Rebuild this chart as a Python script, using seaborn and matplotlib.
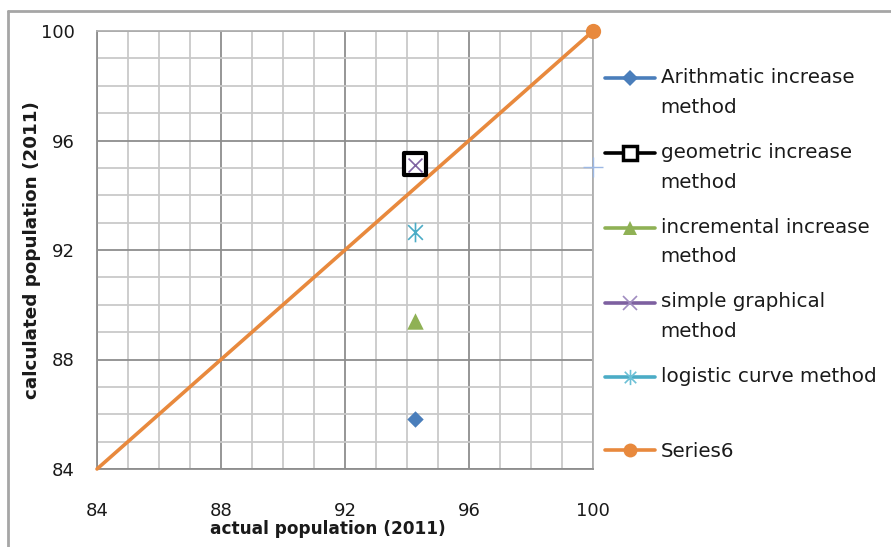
import numpy as np
import matplotlib
matplotlib.use("Agg")
import matplotlib.pyplot as plt
import seaborn as sns
from matplotlib.path import Path
from matplotlib.lines import Line2D
from matplotlib.ticker import MultipleLocator

# data
actual_2011 = 94.25
arithmatic = [85.83]
geometric = [95.14]
incremental = [89.4]
graphical = [95.1]
logistic = [92.66]
stray_x = [100]
stray_y = [95.02]
series6_x = [84, 100]
series6_y = [84, 100]

labels = [
    "Arithmatic increase\nmethod",
    "geometric increase\nmethod",
    "incremental increase\nmethod",
    "simple graphical\nmethod",
    "logistic curve method\n ",
    "Series6",
]
xticks = [84, 88, 92, 96, 100]
yticks = [84, 88, 92, 96, 100]

sns.set_theme(style="white")
plt.rcParams["font.family"] = ["DejaVu Sans"]

# asterisk like the excel "star" marker: vertical line plus an x
star = Path(
    [(0, -1), (0, 1), (-0.75, -0.75), (0.75, 0.75), (-0.75, 0.75), (0.75, -0.75)],
    [Path.MOVETO, Path.LINETO] * 3,
)

fig = plt.figure(figsize=(8.91, 5.47), dpi=100)
ax = fig.add_axes([97 / 891, 1 - 469 / 547, 496 / 891, 438 / 547])

orange = "#E8893D"
sns.lineplot(x=series6_x, y=series6_y, ax=ax, color=orange, lw=2.6,
             marker="o", markersize=11, markevery=[1], markeredgewidth=0,
             clip_on=False, zorder=3)

pts = dict(x=[actual_2011], ax=ax, clip_on=False, legend=False, zorder=4)
sns.scatterplot(y=arithmatic, marker="D", s=70, color="#4A7EBB", linewidth=0, **pts)
sns.scatterplot(y=geometric, marker="s", s=230, facecolor="white", edgecolor="black",
                linewidth=3, **pts)
sns.scatterplot(y=graphical, marker="x", s=100, color="#8064A2", linewidth=1.2, **pts)
sns.scatterplot(y=incremental, marker="^", s=140, color="#8FB155", linewidth=0, **pts)
sns.scatterplot(y=logistic, marker=star, s=200, color="#4BACC6", edgecolor="#4BACC6",
                linewidth=1.2, **pts)
sns.scatterplot(x=stray_x, y=stray_y, ax=ax, marker="+", s=220, color="#9DB8E4",
                linewidth=1.0, clip_on=False, legend=False, zorder=4)

ax.set_xlim(84, 100)
ax.set_ylim(84, 100)
ax.set_xticks(xticks)
ax.set_yticks(yticks)
ax.xaxis.set_minor_locator(MultipleLocator(1))
ax.yaxis.set_minor_locator(MultipleLocator(1))
ax.grid(which="minor", color="#C9C9C9", lw=1.3)
ax.grid(which="major", color="#8E8E8E", lw=1.3)
ax.set_axisbelow(True)
for side, sp in ax.spines.items():
    sp.set_color("#8E8E8E" if side in ("left", "bottom") else "#B0B0B0")
    sp.set_linewidth(1.3)
ax.tick_params(which="major", direction="out", length=5, width=1.2, color="#8E8E8E",
               labelsize=13, labelcolor="#1a1a1a")
ax.tick_params(axis="x", which="major", pad=19)
ax.tick_params(axis="y", which="major", pad=11)
ax.tick_params(which="minor", length=0)

ax.set_xlabel("actual population (2011)", fontsize=12.2, fontweight="bold", color="#1a1a1a")
ax.set_ylabel("calculated population (2011)", fontsize=13.2, fontweight="bold", color="#1a1a1a")
ax.xaxis.set_label_coords(0.465, -0.117)
ax.yaxis.set_label_coords(-0.113, 0.5)

handles = [
    Line2D([], [], color="#4A7EBB", lw=2.6, marker="D", markersize=8, markeredgewidth=0),
    Line2D([], [], color="black", lw=2.6, marker="s", markersize=10, mfc="white", mew=2.5),
    Line2D([], [], color="#8FB155", lw=2.6, marker="^", markersize=10, markeredgewidth=0),
    Line2D([], [], color="#7D60A0", lw=2.6, marker="x", markersize=10, mec="#A08CC0", mew=1.2),
    Line2D([], [], color="#4BACC6", lw=2.6, marker=star, markersize=11, mec="#6CC0D6", mew=1.2),
    Line2D([], [], color=orange, lw=2.6, marker="o", markersize=10, markeredgewidth=0),
]
leg = fig.legend(handles, labels, loc="upper left", bbox_to_anchor=(605 / 891, 1 - 68 / 547),
                 frameon=False, fontsize=14.3, handlelength=2.5, handletextpad=0.3,
                 labelspacing=1.31, borderpad=0, borderaxespad=0)
for t in leg.get_texts():
    t.set_linespacing(1.72)
    t.set_color("#1a1a1a")

# move two-line handles up to the first line of their label
fig.canvas.draw()
renderer = fig.canvas.get_renderer()
one_line = leg.get_texts()[-1].get_window_extent(renderer).height
for h, t in zip(leg.legend_handles, leg.get_texts()):
    if "\n" in t.get_text():
        two_line = t.get_window_extent(renderer).height
        shift = (two_line - one_line) / 2 * 72 / fig.dpi
        h.set_ydata(np.asarray(h.get_ydata()) + shift)

# outer chart border (top and left only visible)
fig.add_artist(Line2D([8 / 891, 8 / 891], [0, 1 - 11 / 547], transform=fig.transFigure,
                      color="#A6A6A6", lw=2))
fig.add_artist(Line2D([8 / 891, 1], [1 - 11 / 547, 1 - 11 / 547], transform=fig.transFigure,
                      color="#A6A6A6", lw=2))

fig.savefig("out.png", dpi=100)
